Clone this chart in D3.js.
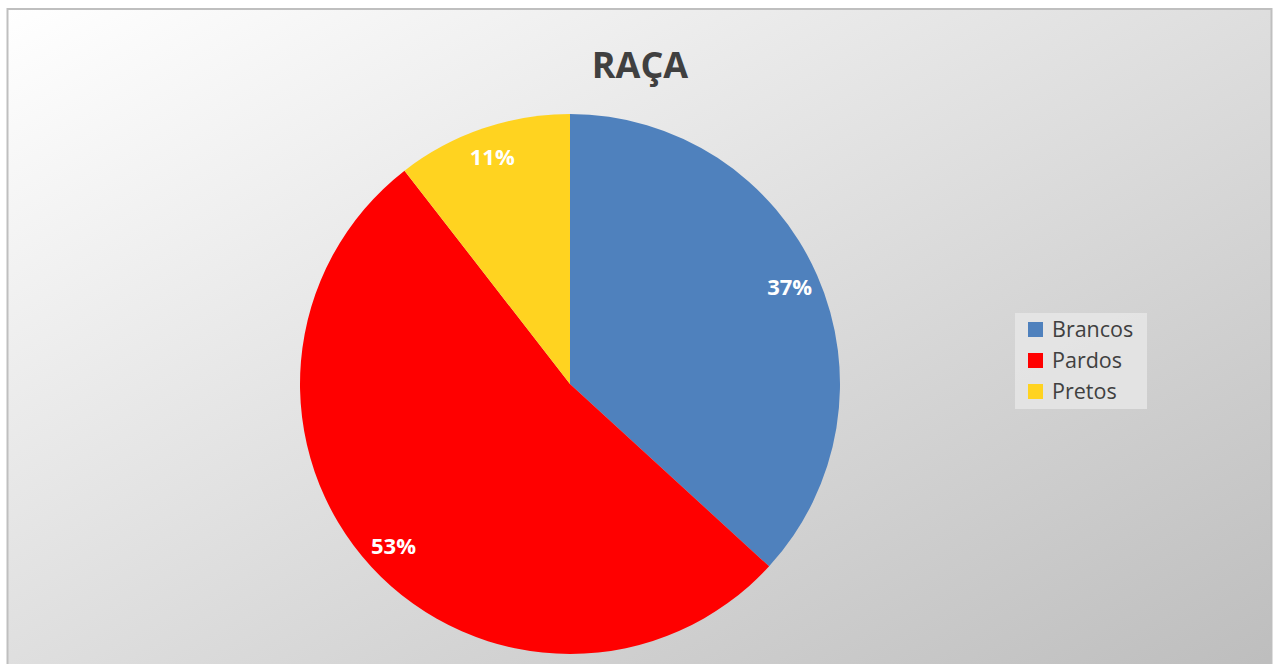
<!DOCTYPE html>
<html>
<head>
<meta charset="utf-8">
<script src="https://cdn.jsdelivr.net/npm/d3@7"></script>
<style>
  html, body { margin: 0; padding: 0; background: #ffffff; }
  svg { display: block; }
</style>
</head>
<body>
<svg id="chart" width="1279" height="664"></svg>
<script>
// Composição por raça (participação percentual)
const categories = ["Brancos", "Pardos", "Pretos"];
const shares = [36.8, 52.7, 10.5];
const colors = ["#4f81bd", "#ff0000", "#ffd320"];
const chartTitle = "RAÇA";

const W = 1279, H = 664;
const svg = d3.select("#chart");

// fundo com degradê diagonal
const defs = svg.append("defs");
const grad = defs.append("linearGradient")
  .attr("id", "bg").attr("x1", "0%").attr("y1", "0%").attr("x2", "100%").attr("y2", "100%");
grad.append("stop").attr("offset", "0%").attr("stop-color", "#ffffff");
grad.append("stop").attr("offset", "100%").attr("stop-color", "#bdbdbd");

svg.append("rect")
  .attr("x", 7.5).attr("y", 9).attr("width", 1264).attr("height", 670)
  .attr("fill", "url(#bg)")
  .attr("stroke", "#bfbfbf").attr("stroke-width", 2);

// título
svg.append("text")
  .attr("x", 640).attr("y", 78)
  .attr("text-anchor", "middle")
  .attr("font-family", "'Open Sans', sans-serif")
  .attr("font-weight", 700)
  .attr("font-size", 36)
  .attr("fill", "#404040")
  .text(chartTitle);

// pizza
const cx = 570, cy = 384, radius = 270;
const data = categories.map((c, i) => ({ name: c, value: shares[i], color: colors[i] }));
const total = d3.sum(shares);
const pie = d3.pie().value(d => d.value).sort(null);
const arc = d3.arc().innerRadius(0).outerRadius(radius);
const labelArc = d3.arc().innerRadius(240).outerRadius(240);

const g = svg.append("g").attr("transform", `translate(${cx},${cy})`);
const arcs = pie(data);

g.selectAll("path.slice")
  .data(arcs)
  .join("path")
  .attr("class", "slice")
  .attr("d", arc)
  .attr("fill", d => d.data.color);

g.selectAll("text.pct")
  .data(arcs)
  .join("text")
  .attr("class", "pct")
  .attr("transform", d => `translate(${labelArc.centroid(d)})`)
  .attr("text-anchor", "middle")
  .attr("dy", "0.35em")
  .attr("font-family", "'Open Sans', sans-serif")
  .attr("font-weight", 700)
  .attr("font-size", 22)
  .attr("fill", "#ffffff")
  .text(d => Math.round(d.data.value / total * 100) + "%");

// legenda
const legend = svg.append("g").attr("transform", "translate(1015,313)");
legend.append("rect")
  .attr("width", 132).attr("height", 96)
  .attr("fill", "#e6e6e6").attr("opacity", 0.85);
const items = legend.selectAll("g.item")
  .data(data)
  .join("g")
  .attr("class", "item")
  .attr("transform", (d, i) => `translate(13,${16 + i * 31})`);
items.append("rect")
  .attr("x", 0).attr("y", -7).attr("width", 15).attr("height", 15)
  .attr("fill", d => d.color);
items.append("text")
  .attr("x", 24).attr("y", 0).attr("dy", "0.35em")
  .attr("font-family", "'Open Sans', sans-serif")
  .attr("font-size", 21.5)
  .attr("fill", "#404040")
  .text(d => d.name);
</script>
</body>
</html>
